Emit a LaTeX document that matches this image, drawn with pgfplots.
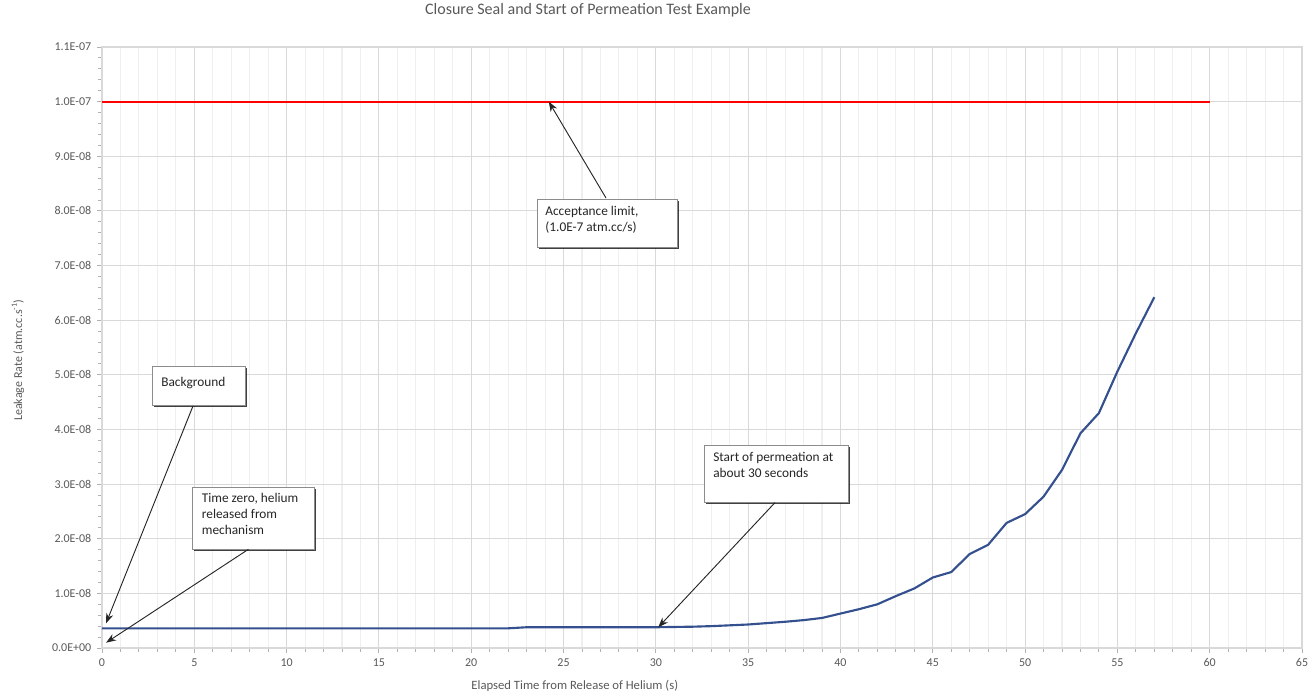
\documentclass[border=0pt]{standalone}
\usepackage{pgfplots}
\pgfplotsset{compat=1.18}
\usepackage{fontspec}
\setmainfont{Carlito}
\usetikzlibrary{arrows.meta,shadows}
\definecolor{txt}{HTML}{595959}
\definecolor{series}{HTML}{34508F}
\definecolor{majgrid}{HTML}{D9D9D9}
\definecolor{mingrid}{HTML}{EFEFEF}

\pgfplotstableread{
x y
0 3.6e-9
22 3.6e-9
23 3.8e-9
30 3.8e-9
31 3.85e-9
32 3.9e-9
33 4.0e-9
34 4.15e-9
35 4.3e-9
36 4.55e-9
37 4.8e-9
38 5.1e-9
39 5.5e-9
40 6.3e-9
41 7.1e-9
42 8.0e-9
43 9.5e-9
44 10.9e-9
45 12.9e-9
46 13.9e-9
47 17.2e-9
48 18.9e-9
49 22.9e-9
50 24.5e-9
51 27.7e-9
52 32.6e-9
53 39.3e-9
54 43.0e-9
55 50.6e-9
56 57.6e-9
57 64.2e-9
}\leak

\pgfplotstableread{
x y
0 1.0e-7
60 1.0e-7
}\limit

\tikzset{
  annbox/.style={draw=black!45, fill=white, line width=0.6pt, inner sep=0pt,
    drop shadow={shadow xshift=1.3pt, shadow yshift=-1.3pt, fill=black, opacity=0.75}},
  anntext/.style={anchor=north west, inner sep=0pt, align=left, text=black!85,
    font=\fontsize{10}{12}\selectfont},
  annarrow/.style={draw=black!85, line width=0.7pt, -{Stealth[length=7.5pt,width=5.5pt]}}
}

\begin{document}
\begin{tikzpicture}
\path[use as bounding box] (0,0) rectangle (985.5pt,519.75pt);
\begin{axis}[
  at={(76.5pt,33.75pt)}, anchor=south west,
  scale only axis, width=900pt, height=450.75pt,
  xmin=0, xmax=65, ymin=0, ymax=1.1e-7,
  clip=false,
  xtick={0,5,...,65}, minor x tick num=4,
  ytick={0,1e-8,2e-8,3e-8,4e-8,5e-8,6e-8,7e-8,8e-8,9e-8,1e-7,1.1e-7},
  yticklabels={0.0E+00,1.0E-08,2.0E-08,3.0E-08,4.0E-08,5.0E-08,6.0E-08,7.0E-08,8.0E-08,9.0E-08,1.0E-07,1.1E-07},
  minor y tick num=4,
  scaled y ticks=false, scaled x ticks=false,
  xtick pos=bottom, ytick pos=left,
  xmajorgrids, xminorgrids, ymajorgrids,
  major grid style={majgrid, line width=0.8pt},
  minor grid style={mingrid, line width=0.8pt},
  axis line style={majgrid, line width=0.8pt},
  tick style={black!30, line width=0.7pt},
  tick align=outside,
  major tick length=3.5pt, minor tick length=3pt,
  /pgf/number format/assume math mode=true,
  ticklabel style={font=\fontsize{9}{10}\selectfont, text=txt},
  xticklabel style={yshift=-1pt},
  yticklabel style={xshift=-1pt},
  title={Closure Seal and Start of Permeation Test Example},
  title style={at={(axis description cs:0.405,1.048)}, anchor=center, font=\fontsize{12}{14}\selectfont, text=txt},
  xlabel={Elapsed Time from Release of Helium (s)},
  xlabel style={at={(axis description cs:0.394,-0.0632)}, anchor=center, font=\fontsize{9.5}{11}\selectfont, text=txt},
  ylabel={Leakage Rate (atm.cc.s\textsuperscript{-1})},
  ylabel style={at={(axis description cs:-0.07,0.479)}, anchor=center, font=\fontsize{9}{11}\selectfont, text=txt},
]
\addplot[color=red, line width=1.4pt] table[x=x, y=y] {\limit};
\addplot[color=series, line width=1.6pt, line join=round] table[x=x, y=y] {\leak};

% Acceptance limit
\node[annbox, anchor=north west, minimum width=105pt, minimum height=36pt] (a) at (axis cs:23.55,8.218e-8) {};
\node[anntext] at ([xshift=6.25pt, yshift=-5pt]a.north west) {Acceptance limit,\\(1.0E-7 atm.cc/s)};
\draw[annarrow] (axis cs:27.3,8.236e-8) -- (axis cs:24.2,1.0e-7);

% Background
\node[annbox, anchor=north west, minimum width=69.75pt, minimum height=29.25pt] (b) at (axis cs:2.708,5.161e-8) {};
\node[anntext] at ([xshift=6.75pt, yshift=-8.5pt]b.north west) {Background};
\draw[annarrow] (axis cs:4.93,4.43e-8) -- (axis cs:0.22,0.452e-8);

% Time zero
\node[annbox, anchor=north west, minimum width=91.5pt, minimum height=46.5pt] (c) at (axis cs:4.891,2.953e-8) {};
\node[anntext] at ([xshift=7pt, yshift=-5pt]c.north west) {Time zero, helium\\released from\\mechanism};
\draw[annarrow] (axis cs:7.93,1.806e-8) -- (axis cs:0.22,0.097e-8);

% Start of permeation
\node[annbox, anchor=north west, minimum width=108pt, minimum height=42.75pt] (d) at (axis cs:32.61,3.716e-8) {};
\node[anntext] at ([xshift=6.75pt, yshift=-5.5pt]d.north west) {Start of permeation at\\about 30 seconds};
\draw[annarrow] (axis cs:36.45,2.66e-8) -- (axis cs:30.13,0.379e-8);
\end{axis}
\end{tikzpicture}
\end{document}
